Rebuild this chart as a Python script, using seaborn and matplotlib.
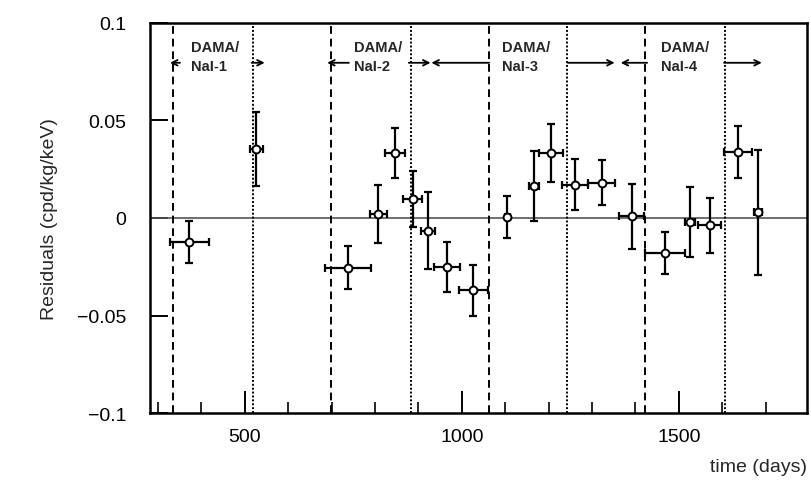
import numpy as np
import pandas as pd
import matplotlib
matplotlib.use("Agg")
import matplotlib.pyplot as plt
import seaborn as sns

sns.set_style("ticks")
plt.rcParams['font.family'] = ['Liberation Sans', 'DejaVu Sans']

# residuals data (time in days, residual in cpd/kg/keV)
days = [372, 527, 739, 808, 847, 887, 922, 966, 1027,
        1105, 1166, 1205, 1260, 1322, 1391, 1468, 1526, 1571, 1637, 1682]
resid = [-0.0123, 0.0355, -0.0256, 0.0020, 0.0333, 0.0097, -0.0065, -0.0251, -0.0371,
         0.0005, 0.0162, 0.0333, 0.0171, 0.0180, 0.0009, -0.0180, -0.0022, -0.0038, 0.0338, 0.0029]
day_err = [45, 15, 53, 19, 23, 22, 16, 30, 34,
           6, 12, 27, 30, 32, 29, 46, 11, 27, 32, 10]
resid_err = [0.011, 0.019, 0.011, 0.015, 0.013, 0.0144, 0.0198, 0.0127, 0.013,
             0.011, 0.018, 0.015, 0.013, 0.0115, 0.0167, 0.0107, 0.018, 0.0142, 0.0133, 0.032]

# data-taking periods
period_names = ['DAMA/\nNaI-1', 'DAMA/\nNaI-2', 'DAMA/\nNaI-3', 'DAMA/\nNaI-4']
period_start = [335, 699, 1063, 1423]
period_end = [518, 882, 1242, 1606]
label_x = [376, 752, 1093, 1460]
# arrows: (from, to)
arrows = [(351, 328), (516, 546), (740, 690), (878, 928),
          (1063, 930), (1244, 1352), (1427, 1366), (1604, 1691)]

df = pd.DataFrame({'days': days, 'resid': resid})

fig = plt.figure(figsize=(8.11, 4.85), dpi=100)
ax = fig.add_axes([0.185, 0.146, 0.81, 0.805])

ax.axhline(0, color='#555555', lw=1.2, zorder=1)
for s, e in zip(period_start, period_end):
    ax.axvline(s, color='black', lw=1.4, ls=(0, (4, 2.5)), zorder=1)
    ax.axvline(e, color='black', lw=1.4, ls=(0, (1, 1)), zorder=1)

ax.errorbar(days, resid, xerr=day_err, yerr=resid_err, fmt='none',
            ecolor='black', elinewidth=1.6, capsize=3, capthick=1.6, zorder=2)
sns.scatterplot(data=df, x='days', y='resid', ax=ax, marker='o', s=32,
                facecolor='white', edgecolor='black', linewidth=1.4, zorder=3)

for name, x in zip(period_names, label_x):
    ax.text(x, 0.0825, name, fontsize=10.5, fontweight='bold', ha='left', va='center',
            linespacing=1.45, zorder=4)
for a, b in arrows:
    ax.annotate('', xy=(b, 0.0795), xytext=(a, 0.0795),
                arrowprops=dict(arrowstyle='->', color='black', lw=1.3,
                                shrinkA=0, shrinkB=0))

ax.set_xlim(282, 1795)
ax.set_ylim(-0.1, 0.1)
ax.set_xticks([500, 1000, 1500])
ax.set_xticks(np.arange(300, 1800, 100), minor=True)
ax.set_yticks([-0.1, -0.05, 0, 0.05, 0.1])
ax.set_yticklabels(['\u22120.1', '\u22120.05', '0', '0.05', '0.1'])
ax.tick_params(axis='both', which='major', direction='in', length=16, width=1.4,
               labelsize=14, colors='black')
ax.tick_params(axis='x', which='major', pad=11)
ax.tick_params(axis='y', which='major', pad=17, length=13)
ax.tick_params(axis='x', which='minor', direction='in', length=8, width=1.4)
ax.set_xlabel('')
ax.set_ylabel('Residuals (cpd/kg/keV)', fontsize=14, labelpad=14)
fig.text(0.995, 0.018, 'time (days)', ha='right', va='bottom', fontsize=14)
for sp in ax.spines.values():
    sp.set_linewidth(1.8)
    sp.set_color('black')

plt.savefig('out.png', dpi=100)
